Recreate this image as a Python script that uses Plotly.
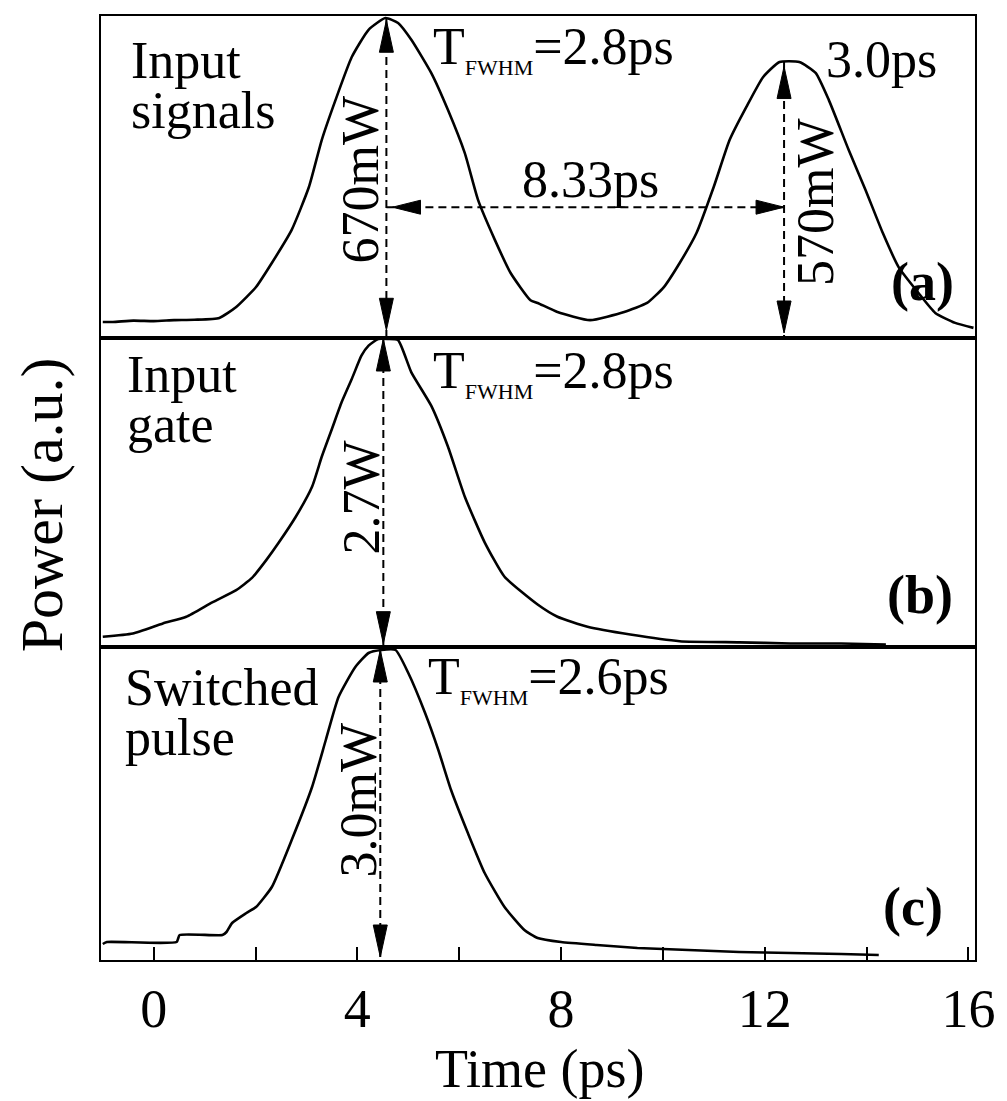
import plotly.graph_objects as go

# ---------------- data ----------------
time_a = [-1.0, -0.8, -0.4, 0.0, 0.4, 0.8, 1.29, 1.62, 2.01, 2.32, 2.71, 3.05, 3.30, 3.57, 3.89,
          4.22, 4.55, 4.8, 5.06, 5.45, 5.78, 6.11, 6.37, 6.70, 7.01, 7.4, 7.54, 7.93, 8.57, 9.24,
          9.69, 10.02, 10.33, 10.66, 11.0, 11.31, 11.64, 11.97, 12.29, 12.68, 13.0, 13.26, 13.65,
          13.98, 14.32, 14.63, 15.02, 15.35, 15.74, 16.1]
power_a = [0, 0, 3, 2, 4, 5, 9, 33, 77, 130, 203, 298, 401, 489, 584,
           644, 670, 659, 622, 549, 467, 372, 269, 181, 108, 48, 42, 22, 4, 22,
           42, 77, 130, 196, 298, 401, 474, 540, 573, 573, 549, 489, 379,
           291, 196, 121, 64, 20, -2, -13]          # mW

time_b = [-1.0, -0.41, 0.18, 0.64, 1.15, 1.62, 1.93, 2.21, 2.46, 2.79, 3.11, 3.3, 3.5, 3.69, 3.89,
          4.08, 4.22, 4.41, 4.6, 4.8, 5.06, 5.45, 5.78, 6.11, 6.5, 6.89, 7.54, 7.93, 8.52, 9.36,
          10.33, 11.5, 12.5, 13.5, 14.38]
power_b = [0.02, 0.05, 0.14, 0.20, 0.33, 0.44, 0.55, 0.71, 0.87, 1.10, 1.37, 1.64, 1.89, 2.13, 2.34,
           2.55, 2.64, 2.70, 2.70, 2.69, 2.40, 2.10, 1.73, 1.28, 0.87, 0.56, 0.31, 0.20, 0.11, 0.04,
           -0.02, -0.03, -0.04, -0.04, -0.05]       # W

time_c = [-1.0, -0.92, 0.45, 0.51, 1.35, 1.43, 1.54, 1.82, 2.01, 2.32, 2.71, 3.11, 3.38, 3.63, 3.96,
          4.22, 4.47, 4.75, 5.0, 5.33, 5.59, 5.84, 6.17, 6.5, 6.89, 7.28, 7.54, 8.0, 8.7, 9.5,
          10.5, 11.5, 12.5, 13.5, 14.24]
power_c = [0.06, 0.08, 0.08, 0.15, 0.15, 0.18, 0.27, 0.37, 0.43, 0.63, 1.10, 1.63, 2.10, 2.53, 2.83,
           2.97, 3.0, 3.0, 2.77, 2.37, 2.0, 1.6, 1.17, 0.77, 0.43, 0.2, 0.12, 0.08, 0.05, 0.02,
           0.0, -0.02, -0.03, -0.04, -0.05]          # mW

x_tick_vals = [0, 2, 4, 6, 8, 10, 12, 14, 16]
x_tick_text = ['0', '', '4', '', '8', '', '12', '', '16']

# annotation values
peak_a1_t, peak_a1_p = 4.57, 670
peak_a2_t, peak_a2_p = 12.38, 573
sep_level = 253
peak_b_t, peak_b_p = 4.51, 2.70
peak_c_t, peak_c_p = 4.45, 3.0

# ---------------- layout constants ----------------
W, H = 1007, 1101
ML, MR, MT, MB = 101, 27, 16, 141
PW, PH = W - ML - MR, H - MT - MB
x_range = [-1.035, 16.13]
y_range_a = [-35.3, 674.4]
y_range_b = [-0.072, 2.709]
y_range_c = [-0.10, 3.03]
dom_c = [0, 313 / PH]
dom_b = [313 / PH, 622 / PH]
dom_a = [622 / PH, 1]

FONT = '"Liberation Serif", Tinos, "Times New Roman", Times, "DejaVu Serif", serif'

fig = go.Figure()
line = dict(color='black', width=2.6, shape='spline', smoothing=0.5)
fig.add_trace(go.Scatter(x=time_a, y=power_a, mode='lines', line=line, xaxis='x3', yaxis='y3'))
fig.add_trace(go.Scatter(x=time_b, y=power_b, mode='lines', line=line, xaxis='x2', yaxis='y2'))
fig.add_trace(go.Scatter(x=time_c, y=power_c, mode='lines', line=line, xaxis='x', yaxis='y'))

ax_common = dict(showline=True, linecolor='black', linewidth=2, mirror=True,
                 showgrid=False, zeroline=False)

fig.update_layout(
    width=W, height=H,
    margin=dict(l=ML, r=MR, t=MT, b=MB),
    plot_bgcolor='white', paper_bgcolor='white',
    showlegend=False,
    font=dict(family=FONT, color='black', size=52),
    xaxis=dict(domain=[0, 1], anchor='y', range=x_range, ticks='inside', ticklen=13,
               tickwidth=1.5, tickcolor='black', tickvals=x_tick_vals, ticktext=x_tick_text,
               tickfont=dict(family=FONT, size=54, color='black'), ticklabelstandoff=0,
               **ax_common),
    xaxis2=dict(domain=[0, 1], anchor='y2', range=x_range, matches='x', showticklabels=False,
                ticks='', **ax_common),
    xaxis3=dict(domain=[0, 1], anchor='y3', range=x_range, matches='x', showticklabels=False,
                ticks='', **ax_common),
    yaxis=dict(domain=dom_c, anchor='x', range=y_range_c, showticklabels=False, ticks='', **ax_common),
    yaxis2=dict(domain=dom_b, anchor='x2', range=y_range_b, showticklabels=False, ticks='', **ax_common),
    yaxis3=dict(domain=dom_a, anchor='x3', range=y_range_a, showticklabels=False, ticks='', **ax_common),
)

# ---------------- dashed arrows ----------------
dash = dict(color='black', width=2, dash='8px,5px')
shapes = []


def dashed(xref, yref, x0, y0, x1, y1):
    shapes.append(dict(type='line', xref=xref, yref=yref, x0=x0, y0=y0, x1=x1, y1=y1, line=dash))


HEADS = {
    'up': 'M0,0 L-7,-32 L7,-32 Z',
    'down': 'M0,0 L-7,32 L7,32 Z',
    'left': 'M0,0 L28,-7 L28,7 Z',
    'right': 'M0,0 L-28,-7 L-28,7 Z',
}


def head(xref, yref, x, y, d):
    shapes.append(dict(type='path', xref=xref, yref=yref, xsizemode='pixel', ysizemode='pixel',
                       xanchor=x, yanchor=y, path=HEADS[d], fillcolor='black',
                       line=dict(color='black', width=1)))


# (a) 670 mW
dashed('x3', 'y3', peak_a1_t, peak_a1_p, peak_a1_t, y_range_a[0])
head('x3', 'y3', peak_a1_t, peak_a1_p - 5, 'up')
head('x3', 'y3', peak_a1_t, y_range_a[0] + 17, 'down')
# (a) 8.33 ps separation
dashed('x3', 'y3', peak_a1_t, sep_level, peak_a2_t, sep_level)
head('x3', 'y3', peak_a1_t + 0.12, sep_level, 'left')
head('x3', 'y3', peak_a2_t, sep_level, 'right')
# (a) 570 mW
dashed('x3', 'y3', peak_a2_t, peak_a2_p, peak_a2_t, y_range_a[0])
head('x3', 'y3', peak_a2_t, peak_a2_p - 10, 'up')
head('x3', 'y3', peak_a2_t, y_range_a[0] + 11, 'down')
# (b) 2.7 W
dashed('x2', 'y2', peak_b_t, peak_b_p, peak_b_t, y_range_b[0])
head('x2', 'y2', peak_b_t, peak_b_p, 'up')
head('x2', 'y2', peak_b_t, y_range_b[0] + 0.03, 'down')
# (c) 3.0 mW
dashed('x', 'y', peak_c_t, peak_c_p, peak_c_t, y_range_c[0])
head('x', 'y', peak_c_t, peak_c_p, 'up')
head('x', 'y', peak_c_t, y_range_c[0] + 0.03, 'down')

fig.update_layout(shapes=shapes)

# ---------------- text ----------------
S = 52
BASE = 0.34 * S


def px(x):
    return (x - ML) / PW


def py(y):
    return (H - MB - y) / PH


annots = []


def label(text, x, yc, size=S, xanchor='left', angle=0, bold=False):
    annots.append(dict(text=('<b>%s</b>' % text) if bold else text, x=px(x), y=py(yc),
                       xref='paper', yref='paper', showarrow=False, xanchor=xanchor,
                       yanchor='middle', textangle=angle,
                       font=dict(family=FONT, size=size, color='black')))


SUB = '<sub><span style="font-size:22px">FWHM</span></sub>'
label('Input', 129, 78 - BASE)
label('signals', 129, 128 - BASE)
label('Input', 125, 392 - BASE)
label('gate', 125, 442 - BASE)
label('Switched', 123, 705 - BASE)
label('pulse', 123, 755 - BASE)
label('T' + SUB + '=2.8ps', 433, 67 - BASE)
label('T' + SUB + '=2.8ps', 433, 391 - BASE)
label('T' + SUB + '=2.6ps', 428, 697 - BASE)
label('3.0ps', 828, 77 - BASE)
label('8.33ps', 522, 197 - BASE)
label('670mW', 362, 180, xanchor='center', angle=-90)
label('570mW', 819, 202, xanchor='center', angle=-90)
label('2.7W', 362, 498, xanchor='center', angle=-90)
label('3.0mW', 359, 800, xanchor='center', angle=-90)
label('(a)', 927, 282, size=54, xanchor='center', bold=True)
label('(b)', 925, 595, size=54, xanchor='center', bold=True)
label('(c)', 918, 907, size=54, xanchor='center', bold=True)
label('Time (ps)', 543, 1069, size=54, xanchor='center')
label('Power (a.u.)', 42, 505, size=60, xanchor='center', angle=-90)

fig.update_layout(annotations=annots)

fig.write_html('out.html')
